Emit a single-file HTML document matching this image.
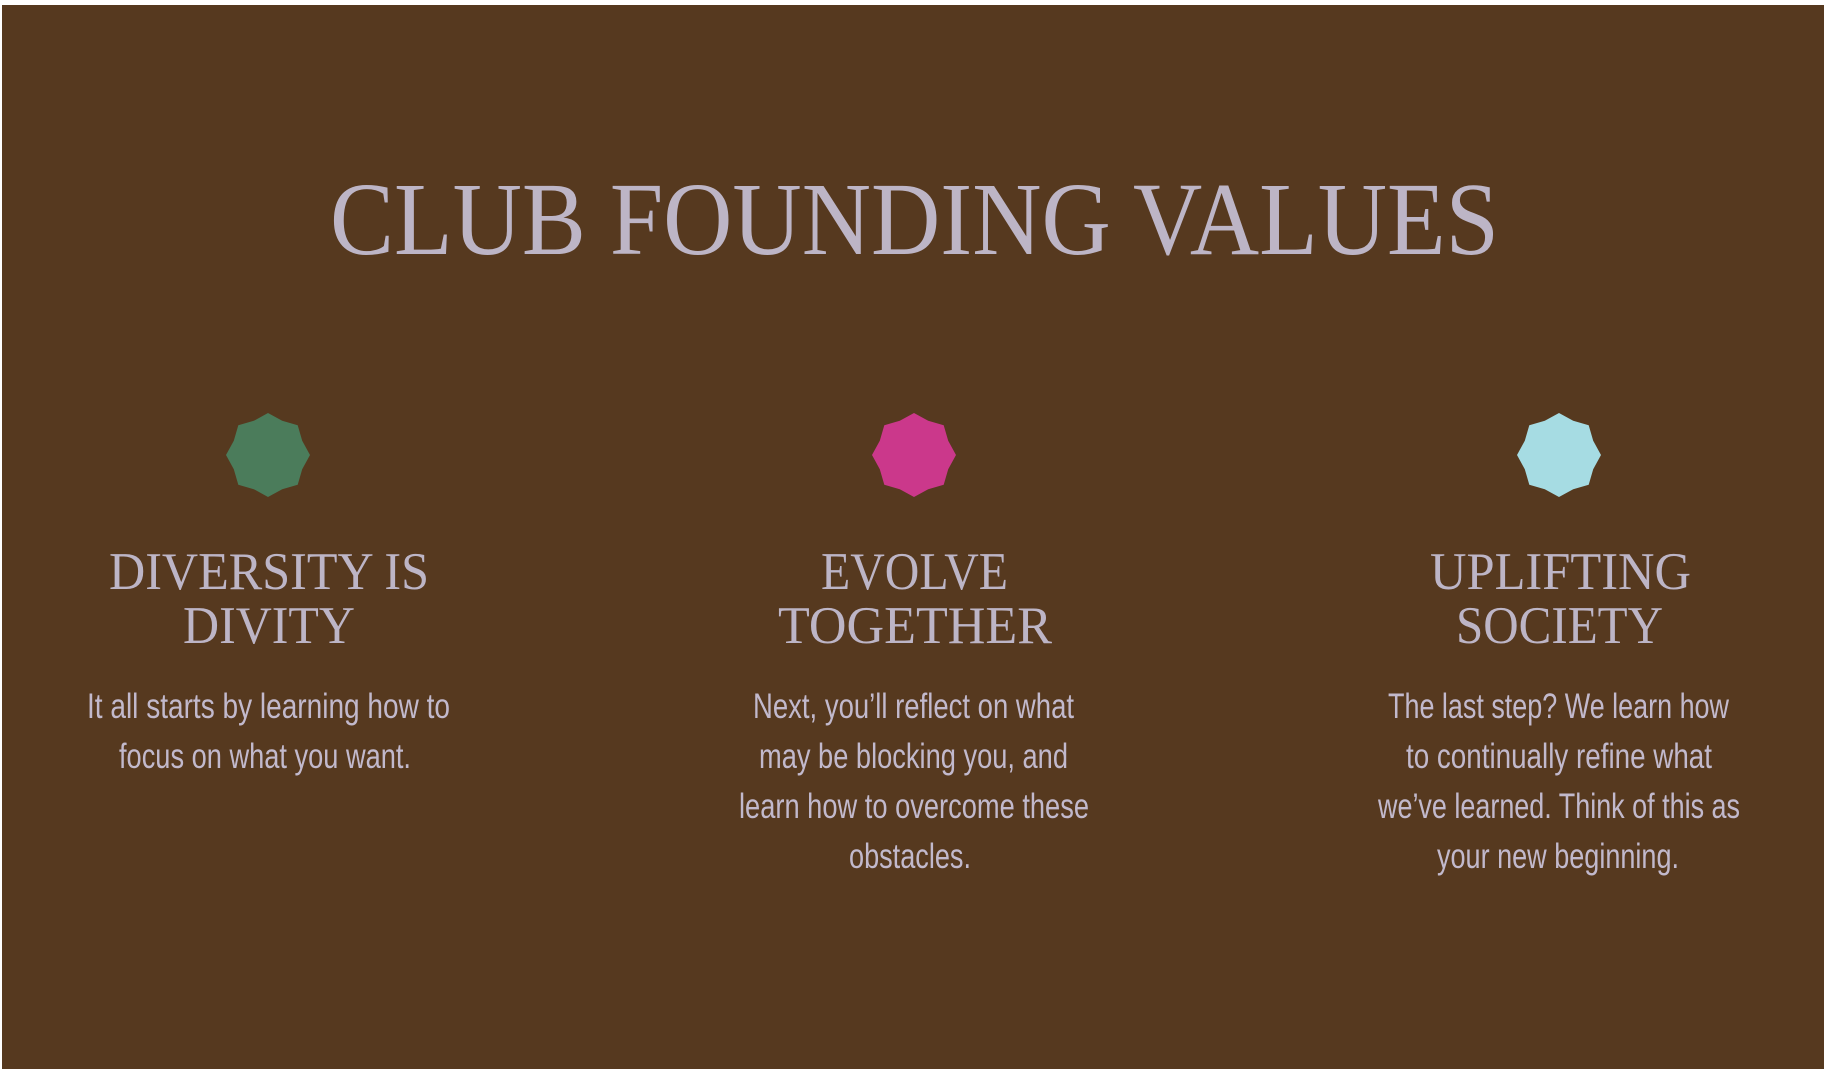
<!DOCTYPE html>
<html><head><meta charset="utf-8">
<style>
html,body{margin:0;padding:0;background:#fff;}
svg{display:block;}
.title{font-family:"Liberation Serif",serif;fill:#bdb5c6;}
.head{font-family:"Liberation Serif",serif;fill:#bdb5c6;}
.body{font-family:"Liberation Sans Narrow","Liberation Sans",sans-serif;fill:#c2b9cc;}
</style></head>
<body>
<svg width="1826" height="1070" viewBox="0 0 1826 1070">
<rect x="2" y="5" width="1822" height="1064" fill="#56391f"/>
<text class="title" x="330" y="254" font-size="104" textLength="1169" lengthAdjust="spacingAndGlyphs">CLUB FOUNDING VALUES</text>

<polygon id="s1" fill="#4b7c5b"/>
<polygon id="s2" fill="#cb388b"/>
<polygon id="s3" fill="#a6dce3"/>

<g>
<text class="head" x="109" y="589" font-size="53" textLength="320" lengthAdjust="spacingAndGlyphs">DIVERSITY IS</text>
<text class="head" x="183" y="643" font-size="53" textLength="172" lengthAdjust="spacingAndGlyphs">DIVITY</text>
<text class="body" x="87" y="718" font-size="35" textLength="363" lengthAdjust="spacingAndGlyphs">It all starts by learning how to</text>
<text class="body" x="119" y="768" font-size="35" textLength="292" lengthAdjust="spacingAndGlyphs">focus on what you want.</text>
</g>

<g>
<text class="head" x="821" y="589" font-size="53" textLength="187" lengthAdjust="spacingAndGlyphs">EVOLVE</text>
<text class="head" x="778" y="643" font-size="53" textLength="274" lengthAdjust="spacingAndGlyphs">TOGETHER</text>
<text class="body" x="753" y="718" font-size="35" textLength="321" lengthAdjust="spacingAndGlyphs">Next, you’ll reflect on what</text>
<text class="body" x="759" y="768" font-size="35" textLength="309" lengthAdjust="spacingAndGlyphs">may be blocking you, and</text>
<text class="body" x="739" y="818" font-size="35" textLength="350" lengthAdjust="spacingAndGlyphs">learn how to overcome these</text>
<text class="body" x="849" y="868" font-size="35" textLength="122" lengthAdjust="spacingAndGlyphs">obstacles.</text>
</g>

<g>
<text class="head" x="1430" y="589" font-size="53" textLength="261" lengthAdjust="spacingAndGlyphs">UPLIFTING</text>
<text class="head" x="1456" y="643" font-size="53" textLength="207" lengthAdjust="spacingAndGlyphs">SOCIETY</text>
<text class="body" x="1388" y="718" font-size="35" textLength="341" lengthAdjust="spacingAndGlyphs">The last step? We learn how</text>
<text class="body" x="1406" y="768" font-size="35" textLength="306" lengthAdjust="spacingAndGlyphs">to continually refine what</text>
<text class="body" x="1378" y="818" font-size="35" textLength="362" lengthAdjust="spacingAndGlyphs">we’ve learned. Think of this as</text>
<text class="body" x="1437" y="868" font-size="35" textLength="242" lengthAdjust="spacingAndGlyphs">your new beginning.</text>
</g>
</svg>
<script>
function star(cx,cy,R,r){
  var pts=[];
  for(var i=0;i<16;i++){
    var a=-Math.PI/2+i*Math.PI/8;
    var rr=(i%2===0)?R:r;
    pts.push((cx+rr*Math.cos(a)).toFixed(1)+','+(cy+rr*Math.sin(a)).toFixed(1));
  }
  return pts.join(' ');
}
document.getElementById('s1').setAttribute('points',star(268,455,42,37));
document.getElementById('s2').setAttribute('points',star(914,455,42,37));
document.getElementById('s3').setAttribute('points',star(1559,455,42,37));
</script>
</body></html>
